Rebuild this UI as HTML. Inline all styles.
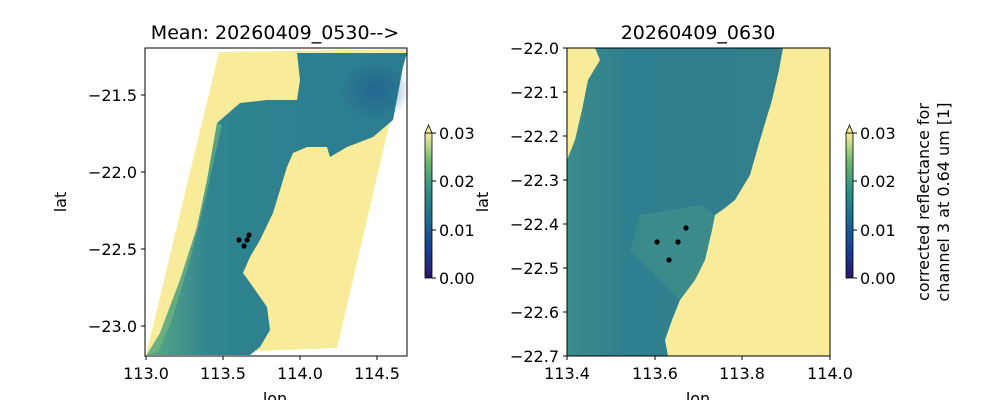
<!DOCTYPE html>
<html><head><meta charset="utf-8"><style>
body{margin:0;background:#fff;}
svg text{font-family:"DejaVu Sans","Liberation Sans",sans-serif;fill:#000;}
</style></head><body>
<svg width="1000" height="400" viewBox="0 0 1000 400" xmlns="http://www.w3.org/2000/svg">
<defs>
<linearGradient id="cb" x1="0" y1="1" x2="0" y2="0">
<stop offset="0" stop-color="#2a186c"/>
<stop offset="0.2" stop-color="#163f96"/>
<stop offset="0.4" stop-color="#1b6b8f"/>
<stop offset="0.6" stop-color="#2d8f88"/>
<stop offset="0.8" stop-color="#6bb86e"/>
<stop offset="1" stop-color="#f7ec98"/>
</linearGradient>
<linearGradient id="wl" x1="0" y1="0" x2="1" y2="0">
<stop offset="0" stop-color="#5aa884"/>
<stop offset="0.25" stop-color="#2f8490"/>
<stop offset="1" stop-color="#2b7c90"/>
</linearGradient>
<radialGradient id="blue" cx="0.5" cy="0.5" r="0.5">
<stop offset="0" stop-color="#1f6190" stop-opacity="1"/>
<stop offset="1" stop-color="#1f6190" stop-opacity="0"/>
</radialGradient>
<linearGradient id="wr" x1="0" y1="0" x2="1" y2="0">
<stop offset="0" stop-color="#3a8c8c"/>
<stop offset="0.3" stop-color="#2e7f8f"/>
<stop offset="1" stop-color="#337f8d"/>
</linearGradient>
</defs>

<!-- LEFT PANEL -->
<polygon points="219,52 407,49 337,348 146,355" fill="#f8eb99"/>
<polygon points="147,355 160,333 180,280 197,227 207,180 217,123 240,103 267,100 297,100 300,80 297,53 407,53 403,67 393,120 373,137 347,147 330,157 327,147 307,147 293,153 287,167 280,190 273,213 260,240 250,257 243,273 253,287 267,307 270,330 260,347 250,355" fill="url(#wl)"/>
<ellipse cx="375" cy="90" rx="35" ry="30" fill="url(#blue)" opacity="0.8"/>
<polygon points="146,355 160,333 180,280 197,227 207,180 217,123 222,125 205,200 190,260 172,320 158,352" fill="#7dbf7a" opacity="0.5"/>
<rect x="145" y="48" width="262" height="308" fill="none" stroke="#000" stroke-width="1"/>
<g fill="#000"><circle cx="239" cy="240" r="2.6"/><circle cx="249" cy="235" r="2.6"/><circle cx="247" cy="240" r="2.6"/><circle cx="244" cy="246" r="2.6"/></g>
<g stroke="#000" stroke-width="1">
<line x1="146" y1="356" x2="146" y2="360"/><line x1="223" y1="356" x2="223" y2="360"/><line x1="300" y1="356" x2="300" y2="360"/><line x1="377" y1="356" x2="377" y2="360"/>
<line x1="141" y1="95" x2="145" y2="95"/><line x1="141" y1="172" x2="145" y2="172"/><line x1="141" y1="249" x2="145" y2="249"/><line x1="141" y1="326" x2="145" y2="326"/>
</g>
<g font-size="16" text-anchor="middle">
<text x="146" y="379">113.0</text><text x="223" y="379">113.5</text><text x="300" y="379">114.0</text><text x="377" y="379">114.5</text>
<text x="275" y="404">lon</text>
</g>
<g font-size="16" text-anchor="end">
<text x="137" y="101">−21.5</text><text x="137" y="178">−22.0</text><text x="137" y="255">−22.5</text><text x="137" y="332">−23.0</text>
</g>
<text x="66" y="202" font-size="16" text-anchor="middle" transform="rotate(-90 66 202)">lat</text>
<text x="275" y="39" font-size="19" text-anchor="middle">Mean: 20260409_0530--&gt;</text>
<!-- left colorbar -->
<rect x="425" y="133" width="7" height="145" fill="url(#cb)" stroke="#000" stroke-width="0.8"/>
<polygon points="425,133 428.5,125 432,133" fill="#f7ec98" stroke="#000" stroke-width="0.8"/>
<g stroke="#000"><line x1="432" y1="133" x2="436" y2="133"/><line x1="432" y1="181" x2="436" y2="181"/><line x1="432" y1="230" x2="436" y2="230"/><line x1="432" y1="278" x2="436" y2="278"/></g>
<g font-size="16"><text x="439" y="139">0.03</text><text x="439" y="187">0.02</text><text x="439" y="236">0.01</text><text x="439" y="284">0.00</text></g>

<!-- RIGHT PANEL -->
<rect x="567" y="48" width="263" height="308" fill="#f8eb99"/>
<polygon points="595,48 783,48 779,70 772,100 760,140 750,175 735,200 725,208 715,215 712,230 705,260 695,280 680,300 672,320 665,340 668,356 567,356 567,160 575,140 582,110 588,80 600,60" fill="url(#wr)"/>
<polygon points="640,215 700,205 715,215 712,230 705,260 695,280 680,300 670,290 650,270 630,250" fill="#4a9d84" opacity="0.4"/>
<rect x="567" y="48" width="263" height="308" fill="none" stroke="#000" stroke-width="1"/>
<g fill="#000"><circle cx="686" cy="228" r="2.6"/><circle cx="657" cy="242" r="2.6"/><circle cx="678" cy="242" r="2.6"/><circle cx="669" cy="260" r="2.6"/></g>
<g stroke="#000" stroke-width="1">
<line x1="567" y1="356" x2="567" y2="360"/><line x1="655" y1="356" x2="655" y2="360"/><line x1="742" y1="356" x2="742" y2="360"/><line x1="830" y1="356" x2="830" y2="360"/>
<line x1="563" y1="48" x2="567" y2="48"/><line x1="563" y1="92" x2="567" y2="92"/><line x1="563" y1="136" x2="567" y2="136"/><line x1="563" y1="180" x2="567" y2="180"/><line x1="563" y1="224" x2="567" y2="224"/><line x1="563" y1="268" x2="567" y2="268"/><line x1="563" y1="312" x2="567" y2="312"/><line x1="563" y1="356" x2="567" y2="356"/>
</g>
<g font-size="16" text-anchor="middle">
<text x="567" y="379">113.4</text><text x="655" y="379">113.6</text><text x="742" y="379">113.8</text><text x="830" y="379">114.0</text>
<text x="698" y="404">lon</text>
</g>
<g font-size="16" text-anchor="end">
<text x="559" y="54">−22.0</text><text x="559" y="98">−22.1</text><text x="559" y="142">−22.2</text><text x="559" y="186">−22.3</text><text x="559" y="230">−22.4</text><text x="559" y="274">−22.5</text><text x="559" y="318">−22.6</text><text x="559" y="362">−22.7</text>
</g>
<text x="488" y="202" font-size="16" text-anchor="middle" transform="rotate(-90 488 202)">lat</text>
<text x="698" y="39" font-size="19" text-anchor="middle">20260409_0630</text>
<!-- right colorbar -->
<rect x="846" y="133" width="7" height="145" fill="url(#cb)" stroke="#000" stroke-width="0.8"/>
<polygon points="846,133 849.5,125 853,133" fill="#f7ec98" stroke="#000" stroke-width="0.8"/>
<g stroke="#000"><line x1="853" y1="133" x2="857" y2="133"/><line x1="853" y1="181" x2="857" y2="181"/><line x1="853" y1="230" x2="857" y2="230"/><line x1="853" y1="278" x2="857" y2="278"/></g>
<g font-size="16"><text x="860" y="139">0.03</text><text x="860" y="187">0.02</text><text x="860" y="236">0.01</text><text x="860" y="284">0.00</text></g>
<text font-size="16" text-anchor="middle" transform="translate(929 202) rotate(-90)">corrected reflectance for</text>
<text font-size="16" text-anchor="middle" transform="translate(949 202) rotate(-90)">channel 3 at 0.64 um [1]</text>
</svg>
</body></html>
